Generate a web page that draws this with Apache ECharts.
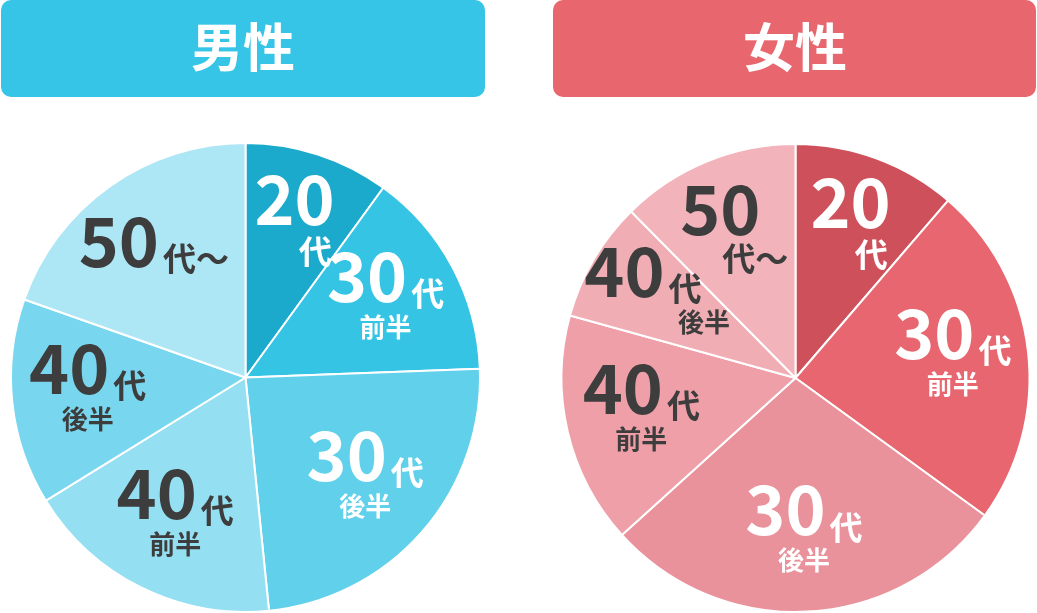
<!DOCTYPE html>
<html>
<head>
<meta charset="utf-8">
<script src="https://cdn.jsdelivr.net/npm/echarts@6/dist/echarts.min.js"></script>
<style>
html, body { margin: 0; padding: 0; background: #fff; }
#main { width: 1037px; height: 613px; }
</style>
</head>
<body>
<div id="main"></div>
<script>
// 年代の区分
var ageGroups = ['20代', '30代前半', '30代後半', '40代前半', '40代後半', '50代〜'];

// 男性の割合(%)
var maleValues = [10.0, 14.4, 24.0, 17.8, 14.2, 19.6];

// 女性の割合(%)
var femaleValues = [11.3, 23.7, 28.3, 16.0, 8.3, 12.4];

// 見出し
var titles = ['男性', '女性'];

// 色
var maleColors = ['#1BAACC', '#36C4E5', '#61D0EA', '#94DFF2', '#78D7EE', '#ADE6F5'];
var femaleColors = ['#CE505B', '#E8666F', '#EA929B', '#EE9FA7', '#F0ADB4', '#F2B3BA'];
var labelColors = ['#fff', '#fff', '#fff', '#3d3d3d', '#3d3d3d', '#3d3d3d'];

var FONT = '"Noto Sans CJK JP", "Noto Sans", sans-serif';
var centers = [[245.5, 377.5], [795.5, 378]];

function makeData(values, colors) {
	var arr = [];
	for (var i = 0; i < ageGroups.length; i++) {
		arr.push({
			name: ageGroups[i],
			value: values[i],
			itemStyle: { color: colors[i] },
			label: { color: labelColors[i] }
		});
	}
	return arr;
}

// ラベルの書式
function labelText(name, side) {
	var num = name.slice(0, 2), rest = name.slice(2);
	if (rest === '代') return '{n|' + num + '}\n{dr|代}';
	if (rest === '代〜') {
		// 女性側は2行
		if (side == 1) return '{np|' + num + '}\n{dp|代〜}';
		return '{n|' + num + '}{d|代〜}';
	}
	var half = rest.slice(1);
	if (side == 1 && name === '40代後半') return '{n|' + num + '}{dq|代}\n{sp|' + half + '}';
	return '{n|' + num + '}{d|代}\n{s|' + half + '}';
}

var richStyle = {
	n: { fontSize: 68, fontWeight: 'bold', fontFamily: FONT, lineHeight: 62, verticalAlign: 'bottom' },
	np: { fontSize: 68, fontWeight: 'bold', fontFamily: FONT, lineHeight: 62, padding: [0, 30, 0, 0] },
	d: { fontSize: 33, fontWeight: 'bold', fontFamily: FONT, lineHeight: 40, verticalAlign: 'bottom', padding: [0, 0, 0, 4] },
	dq: { fontSize: 33, fontWeight: 'bold', fontFamily: FONT, lineHeight: 40, verticalAlign: 'bottom', padding: [0, 32, 0, 4] },
	dr: { fontSize: 33, fontWeight: 'bold', fontFamily: FONT, lineHeight: 38, align: 'right', padding: [0, 3, 0, 0] },
	dp: { fontSize: 33, fontWeight: 'bold', fontFamily: FONT, lineHeight: 38, padding: [0, 0, 0, 40] },
	s: { fontSize: 26, fontWeight: 'bold', fontFamily: FONT, lineHeight: 34 },
	sp: { fontSize: 26, fontWeight: 'bold', fontFamily: FONT, lineHeight: 34, padding: [0, 0, 0, 90] }
};

function pieSeries(idx, values, colors, radius) {
	return {
		type: 'pie',
		center: centers[idx],
		radius: [0, radius],
		startAngle: 90,
		clockwise: true,
		silent: true,
		itemStyle: { borderColor: '#fff', borderWidth: 2 },
		label: {
			show: true,
			position: 'inside',
			formatter: function (p) { return labelText(p.name, idx); },
			rich: richStyle
		},
		labelLine: { show: false },
		// ラベルを中心から約2/3の位置へ
		labelLayout: function (p) {
			var c = centers[p.seriesIndex];
			var lx = p.labelRect.x + p.labelRect.width / 2;
			var ly = p.labelRect.y + p.labelRect.height / 2;
			return { x: c[0] + (lx - c[0]) * 1.32, y: c[1] + (ly - c[1]) * 1.32 };
		},
		data: makeData(values, colors)
	};
}

var myChart = echarts.init(document.getElementById('main'));

var option = {
	animation: false,
	graphic: [
		{ type: 'rect', shape: { x: 1, y: 0, width: 484, height: 97, r: 10 }, style: { fill: '#36C5E6' } },
		{ type: 'text', x: 243, y: 47, style: { text: titles[0], fill: '#fff', font: 'bold 52px ' + FONT, align: 'center', verticalAlign: 'middle' } },
		{ type: 'rect', shape: { x: 553, y: 0, width: 483, height: 97, r: 10 }, style: { fill: '#E8676F' } },
		{ type: 'text', x: 795, y: 47, style: { text: titles[1], fill: '#fff', font: 'bold 52px ' + FONT, align: 'center', verticalAlign: 'middle' } }
	],
	series: [
		pieSeries(0, maleValues, maleColors, 234.5),
		pieSeries(1, femaleValues, femaleColors, 234)
	]
};

myChart.setOption(option);
</script>
</body>
</html>
